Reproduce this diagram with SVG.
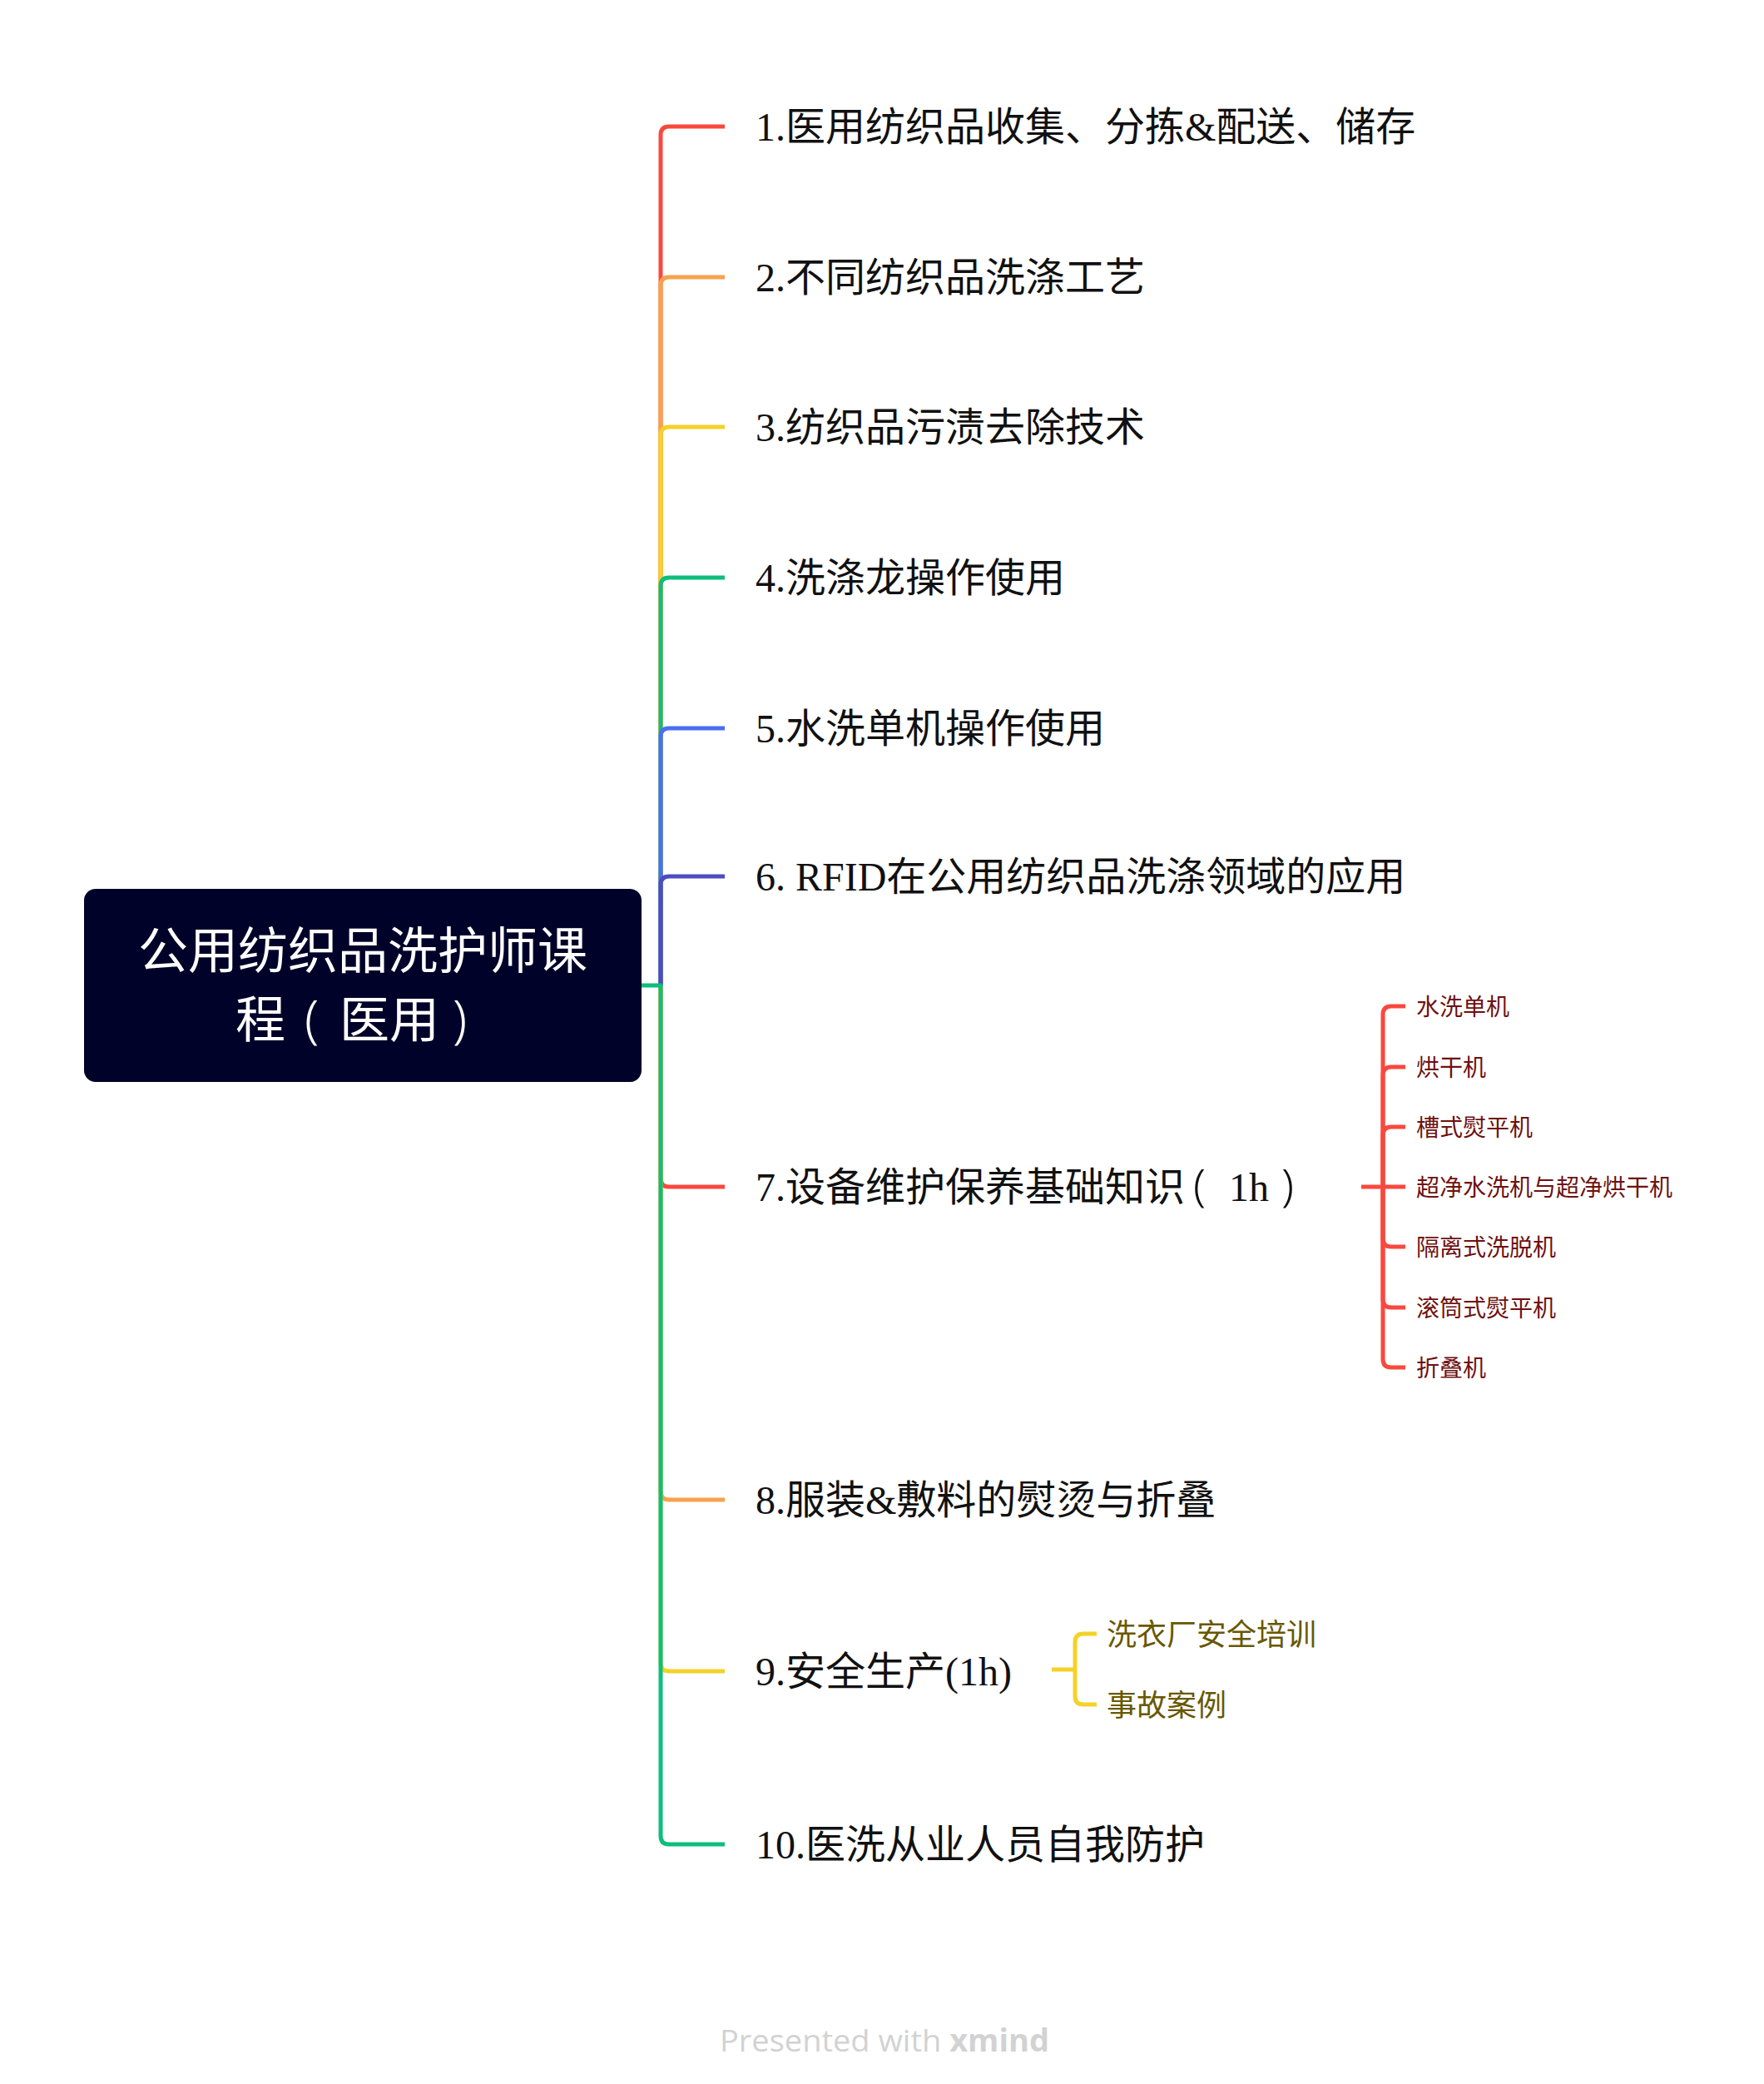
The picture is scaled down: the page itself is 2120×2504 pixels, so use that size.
<svg xmlns="http://www.w3.org/2000/svg" width="2120" height="2504" viewBox="0 0 2120 2504">
<style>
.ln{fill:none;stroke-width:5;stroke-linecap:butt;stroke-linejoin:round}
.main{font-family:"Liberation Serif","Noto Sans CJK SC",serif;font-size:48px;fill:#111}
.root{font-family:"Noto Sans CJK SC",sans-serif;font-size:60px;fill:#fff}
.s7{font-family:"Noto Sans CJK SC",sans-serif;font-size:28px;fill:#6E1111}
.s9{font-family:"Noto Sans CJK SC",sans-serif;font-size:36px;fill:#685800}
.wm{font-family:"Open Sans","Lato",sans-serif;font-size:37px;fill:#D2D2D2}
.par{font-family:"Noto Sans",sans-serif;font-weight:300}
</style>
<rect width="2120" height="2504" fill="#fff"/>
<g id="connectors">
  <path class="ln" stroke="#FA483E" d="M794,1184 V162 Q794,152 804,152 H871"/>
  <path class="ln" stroke="#F7A24B" d="M794,1184 V343 Q794,333 804,333 H871"/>
  <path class="ln" stroke="#F4D227" d="M794,1184 V523 Q794,513 804,513 H871"/>
  <path class="ln" stroke="#0DBE7C" d="M794,1184 V704 Q794,694 804,694 H871"/>
  <path class="ln" stroke="#4A6EF5" d="M794,1184 V885 Q794,875 804,875 H871"/>
  <path class="ln" stroke="#4F4BC2" d="M794,1184 V1063 Q794,1053 804,1053 H871"/>
  <path class="ln" stroke="#FA483E" d="M794,1184 V1416 Q794,1426 804,1426 H871"/>
  <path class="ln" stroke="#F7A24B" d="M794,1184 V1792 Q794,1802 804,1802 H871"/>
  <path class="ln" stroke="#F4D227" d="M794,1184 V1998 Q794,2008 804,2008 H871"/>
  <path class="ln" stroke="#0DBE7C" d="M771,1184 H794 V2206 Q794,2216 804,2216 H871"/>
  <g stroke="#FA483E">
    <path class="ln" d="M1636,1426 H1689"/>
    <path class="ln" d="M1662,1426 V1219 Q1662,1209 1672,1209 H1689"/>
    <path class="ln" d="M1662,1426 V1292 Q1662,1282 1672,1282 H1689"/>
    <path class="ln" d="M1662,1426 V1364 Q1662,1354 1672,1354 H1689"/>
    <path class="ln" d="M1662,1426 V1488 Q1662,1498 1672,1498 H1689"/>
    <path class="ln" d="M1662,1426 V1561 Q1662,1571 1672,1571 H1689"/>
    <path class="ln" d="M1662,1426 V1633 Q1662,1643 1672,1643 H1689"/>
  </g>
  <g stroke="#F4D227">
    <path class="ln" d="M1264,2006 H1292"/>
    <path class="ln" d="M1292,2006 V1973 Q1292,1963 1302,1963 H1318"/>
    <path class="ln" d="M1292,2006 V2038 Q1292,2048 1302,2048 H1318"/>
  </g>
</g>
<g id="root">
  <rect x="101" y="1068" width="670" height="232" rx="14" fill="#000229"/>
  <text class="root" x="436" y="1164" text-anchor="middle">公用纺织品洗护师课</text>
  <text class="root" x="283" y="1247">程<tspan class="par" x="366" font-size="62">(</tspan><tspan x="408">医用</tspan><tspan class="par" x="544" font-size="62">)</tspan></text>
</g>
<g id="t1"><text class="main" x="908" y="169">1.医用纺织品收集、分拣&amp;配送、储存</text></g>
<g id="t2"><text class="main" x="908" y="350">2.不同纺织品洗涤工艺</text></g>
<g id="t3"><text class="main" x="908" y="530">3.纺织品污渍去除技术</text></g>
<g id="t4"><text class="main" x="908" y="711">4.洗涤龙操作使用</text></g>
<g id="t5"><text class="main" x="908" y="892">5.水洗单机操作使用</text></g>
<g id="t6"><text class="main" x="908" y="1070">6. RFID在公用纺织品洗涤领域的应用</text></g>
<g id="t7"><text class="main" x="908" y="1443">7.设备维护保养基础知识<tspan class="par" x="1434" font-size="54">(</tspan><tspan x="1477">1h</tspan><tspan class="par" x="1540" font-size="54">)</tspan></text></g>
<g id="t7-1"><text class="s7" x="1702" y="1220">水洗单机</text></g>
<g id="t7-2"><text class="s7" x="1702" y="1293">烘干机</text></g>
<g id="t7-3"><text class="s7" x="1702" y="1365">槽式熨平机</text></g>
<g id="t7-4"><text class="s7" x="1702" y="1437">超净水洗机与超净烘干机</text></g>
<g id="t7-5"><text class="s7" x="1702" y="1509">隔离式洗脱机</text></g>
<g id="t7-6"><text class="s7" x="1702" y="1582">滚筒式熨平机</text></g>
<g id="t7-7"><text class="s7" x="1702" y="1654">折叠机</text></g>
<g id="t8"><text class="main" x="908" y="1819">8.服装&amp;敷料的熨烫与折叠</text></g>
<g id="t9"><text class="main" x="908" y="2025">9.安全生产(1h)</text></g>
<g id="t9-1"><text class="s9" x="1330" y="1977">洗衣厂安全培训</text></g>
<g id="t9-2"><text class="s9" x="1330" y="2062">事故案例</text></g>
<g id="t10"><text class="main" x="908" y="2233">10.医洗从业人员自我防护</text></g>
<text class="wm" x="865" y="2465" textLength="396" lengthAdjust="spacingAndGlyphs">Presented with <tspan font-weight="bold">xmind</tspan></text>
</svg>
